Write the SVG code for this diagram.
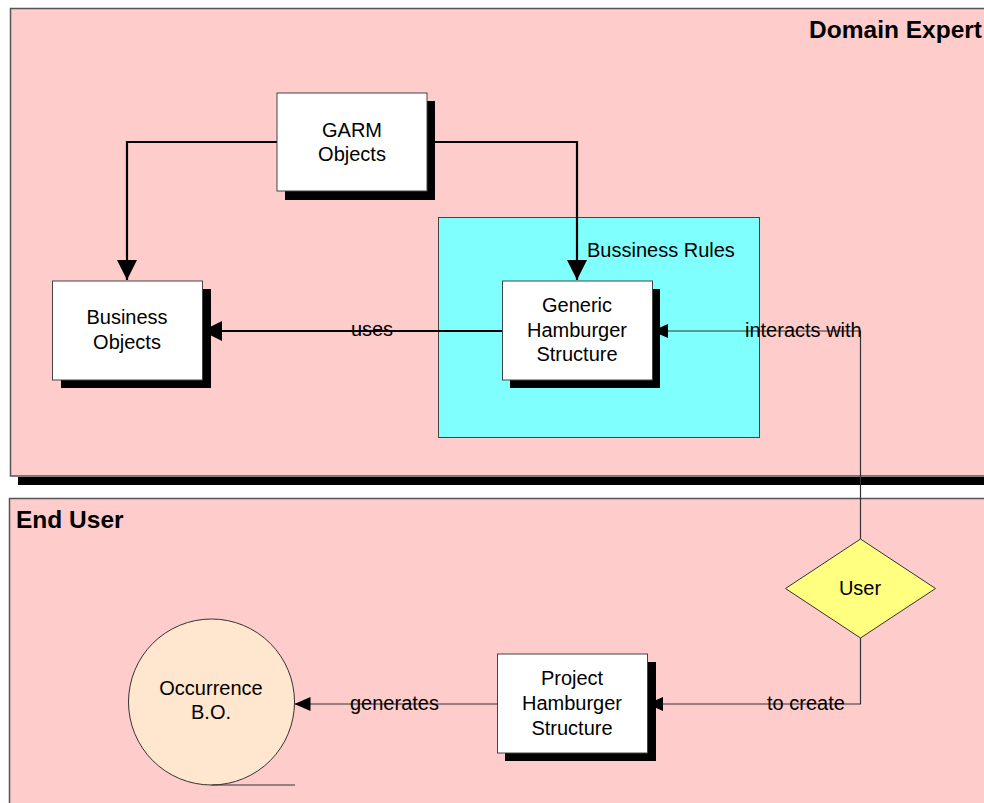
<svg xmlns="http://www.w3.org/2000/svg" width="984" height="803" viewBox="0 0 984 803">
<style>
.lane{fill:#FFCCCC;stroke:#555;stroke-width:1.5}
.lbl{font-family:"Liberation Sans",Arial,sans-serif;font-size:24.5px;font-weight:bold;fill:#000}
.t{font-family:"Liberation Sans",Arial,sans-serif;font-size:20px;fill:#000;text-anchor:middle}
.ts{font-family:"Liberation Sans",Arial,sans-serif;font-size:20px;fill:#000}
.box{fill:#fff;stroke:#444;stroke-width:1}
.shadow{fill:#000}
.thick{fill:none;stroke:#000;stroke-width:2.2}
.thin{fill:none;stroke:#333;stroke-width:1.2}
</style>
<defs>
<marker id="big" markerUnits="userSpaceOnUse" markerWidth="20" markerHeight="20" viewBox="0 0 18 18" refX="18" refY="9" orient="auto">
<path d="M0,0 L18,9 L0,18 Z" fill="#000"/>
</marker>
<marker id="small" markerUnits="userSpaceOnUse" markerWidth="16" markerHeight="16" viewBox="0 0 16 14" refX="16" refY="7" orient="auto">
<path d="M0,0 L16,7 L0,14 Z" fill="#000"/>
</marker>
</defs>
<rect width="984" height="803" fill="#fff"/>
<g id="lane-domain-expert">
<rect x="18" y="477" width="970" height="8" class="shadow"/>
<rect x="10.5" y="8.5" width="980" height="467.5" class="lane"/>
<text x="982" y="38" class="lbl" text-anchor="end">Domain Expert</text>
</g>
<g id="lane-end-user">
<rect x="9.5" y="498.5" width="980" height="320" class="lane"/>
<text x="16" y="528" class="lbl">End User</text>
</g>
<g id="business-rules">
<rect x="438.5" y="217.5" width="321" height="220" fill="#80FFFF" stroke="#444" stroke-width="1"/>
<text x="587" y="257" class="ts">Bussiness Rules</text>
</g>
<g id="connectors">
<path d="M277,142 H127 V280" class="thick" marker-end="url(#big)"/>
<path d="M427,142 H577 V280" class="thick" marker-end="url(#big)"/>
<path d="M502,331 H202" class="thick" marker-end="url(#big)"/>
<path d="M860.5,539 V331 H652" class="thin" marker-end="url(#small)"/>
<path d="M860.5,638 V704 H647" class="thin" marker-end="url(#small)"/>
<path d="M497,704 H294.5" class="thin" marker-end="url(#small)"/>
<text x="372" y="336" class="t">uses</text>
<text x="745" y="337" class="ts">interacts with</text>
<text x="767" y="710" class="ts">to create</text>
<text x="350" y="710" class="ts">generates</text>
</g>
<g id="garm-objects">
<rect x="285" y="101" width="150" height="99" class="shadow"/>
<rect x="277" y="93" width="150" height="98" class="box"/>
<text x="352" y="137" class="t">GARM</text>
<text x="352" y="161" class="t">Objects</text>
</g>
<g id="business-objects">
<rect x="61" y="289" width="150" height="99" class="shadow"/>
<rect x="52.5" y="281" width="150" height="99" class="box"/>
<text x="127" y="324" class="t">Business</text>
<text x="127" y="349" class="t">Objects</text>
</g>
<g id="generic-hamburger-structure">
<rect x="510" y="289" width="150" height="99" class="shadow"/>
<rect x="502.5" y="281" width="150" height="99" class="box"/>
<text x="577" y="312" class="t">Generic</text>
<text x="577" y="337" class="t">Hamburger</text>
<text x="577" y="361" class="t">Structure</text>
</g>
<g id="user">
<polygon points="860.5,539 935.5,588.5 860.5,638 785.5,588.5" fill="#FFFF80" stroke="#333" stroke-width="1"/>
<text x="860" y="595" class="t">User</text>
</g>
<g id="project-hamburger-structure">
<rect x="505" y="662" width="151" height="99" class="shadow"/>
<rect x="497.5" y="654" width="150" height="99" class="box"/>
<text x="572" y="685" class="t">Project</text>
<text x="572" y="710" class="t">Hamburger</text>
<text x="572" y="735" class="t">Structure</text>
</g>
<g id="occurrence-bo">
<circle cx="211.5" cy="702" r="83" fill="#FFE6CE" stroke="#333" stroke-width="1"/>
<line x1="211.5" y1="785" x2="295" y2="785" stroke="#333" stroke-width="1"/>
<text x="211" y="695" class="t">Occurrence</text>
<text x="211" y="719" class="t">B.O.</text>
</g>
</svg>
